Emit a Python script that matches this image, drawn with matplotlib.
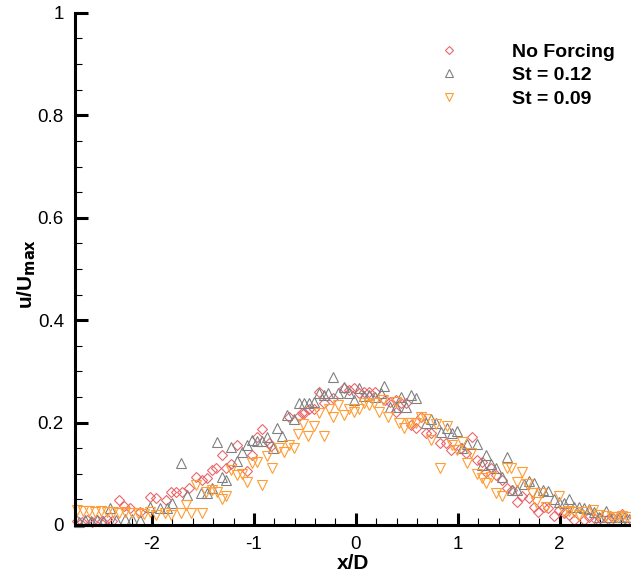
#!/usr/bin/env python3
import numpy as np
import matplotlib
matplotlib.use("Agg")
import matplotlib.pyplot as plt
from matplotlib.ticker import MultipleLocator

plt.rcParams['font.family'] = ['Liberation Sans', 'DejaVu Sans']

# No forcing (red diamonds)
x_nf = [-2.74, -2.69, -2.64, -2.59, -2.54, -2.49, -2.44, -2.39, -2.32, -2.27, -2.22, -2.12,
        -2.02, -1.96, -1.86, -1.81, -1.76, -1.71, -1.64, -1.57, -1.51, -1.46, -1.41, -1.37,
        -1.31, -1.27, -1.22, -1.17, -1.07, -1.02, -0.97, -0.92, -0.85, -0.83, -0.66, -0.56,
        -0.53, -0.51, -0.46, -0.41, -0.36, -0.31, -0.22, -0.12, -0.07, -0.02, 0.03, 0.08,
        0.13, 0.19, 0.29, 0.34, 0.39, 0.39, 0.44, 0.49, 0.54, 0.59, 0.64, 0.69, 0.74, 0.83,
        0.88, 0.93, 1.03, 1.08, 1.14, 1.19, 1.24, 1.28, 1.33, 1.38, 1.43, 1.48, 1.53, 1.58,
        1.63, 1.70, 1.75, 1.79, 1.85, 1.89, 1.94, 1.99, 2.04, 2.09, 2.14, 2.24, 2.29, 2.35,
        2.40, 2.47, 2.52, 2.61, 2.66]
y_nf = [0.008, 0.005, 0.009, 0.006, 0.010, 0.007, 0.012, 0.008, 0.049, 0.037, 0.033, 0.025,
        0.055, 0.052, 0.049, 0.064, 0.064, 0.064, 0.072, 0.094, 0.088, 0.092, 0.107, 0.111,
        0.137, 0.111, 0.120, 0.156, 0.105, 0.137, 0.172, 0.187, 0.160, 0.154, 0.211, 0.213,
        0.219, 0.219, 0.227, 0.226, 0.260, 0.238, 0.248, 0.268, 0.264, 0.268, 0.258, 0.260,
        0.260, 0.260, 0.244, 0.240, 0.244, 0.221, 0.238, 0.238, 0.195, 0.190, 0.211, 0.180,
        0.180, 0.160, 0.160, 0.146, 0.150, 0.141, 0.172, 0.127, 0.123, 0.104, 0.111, 0.098,
        0.088, 0.072, 0.068, 0.045, 0.057, 0.053, 0.035, 0.025, 0.035, 0.033, 0.018, 0.029,
        0.023, 0.020, 0.010, 0.010, 0.016, 0.012, 0.014, 0.012, 0.014, 0.021, 0.010]

# St = 0.12 (grey up triangles)
x_12 = [-2.72, -2.66, -2.60, -2.54, -2.48, -2.41, -2.35, -2.26, -2.20, -2.12, -2.02, -1.92,
        -1.85, -1.80, -1.72, -1.66, -1.52, -1.46, -1.41, -1.36, -1.31, -1.27, -1.22, -1.17,
        -1.12, -1.07, -1.02, -0.97, -0.92, -0.87, -0.81, -0.77, -0.72, -0.68, -0.61, -0.56,
        -0.51, -0.46, -0.41, -0.36, -0.31, -0.27, -0.22, -0.17, -0.12, -0.07, -0.02, 0.03,
        0.08, 0.13, 0.19, 0.25, 0.28, 0.34, 0.39, 0.44, 0.49, 0.54, 0.59, 0.69, 0.74, 0.79,
        0.84, 0.89, 0.94, 0.99, 1.04, 1.09, 1.19, 1.24, 1.28, 1.33, 1.38, 1.43, 1.48, 1.53,
        1.58, 1.65, 1.70, 1.75, 1.79, 1.84, 1.89, 1.94, 1.99, 2.04, 2.09, 2.14, 2.19, 2.24,
        2.29, 2.34, 2.39, 2.45, 2.49, 2.58, 2.63, 2.68]
y_12 = [0.006, 0.010, 0.008, 0.010, 0.008, 0.033, 0.010, 0.012, 0.012, 0.010, 0.035, 0.033,
        0.033, 0.043, 0.121, 0.058, 0.062, 0.062, 0.072, 0.162, 0.094, 0.088, 0.152, 0.125,
        0.142, 0.156, 0.166, 0.164, 0.164, 0.172, 0.150, 0.190, 0.174, 0.215, 0.207, 0.238,
        0.238, 0.238, 0.240, 0.258, 0.254, 0.258, 0.289, 0.258, 0.270, 0.258, 0.244, 0.268,
        0.252, 0.254, 0.250, 0.258, 0.271, 0.230, 0.230, 0.250, 0.230, 0.254, 0.248, 0.200,
        0.207, 0.200, 0.182, 0.190, 0.180, 0.184, 0.150, 0.158, 0.158, 0.117, 0.137, 0.119,
        0.111, 0.094, 0.133, 0.068, 0.068, 0.080, 0.086, 0.082, 0.064, 0.068, 0.066, 0.051,
        0.045, 0.043, 0.051, 0.035, 0.035, 0.033, 0.031, 0.025, 0.016, 0.027, 0.016, 0.016,
        0.016, 0.012]

# St = 0.09 (orange down triangles)
x_09 = [-2.74, -2.68, -2.62, -2.56, -2.50, -2.44, -2.38, -2.32, -2.26, -2.20, -2.14, -2.08,
        -2.02, -1.96, -1.87, -1.81, -1.72, -1.67, -1.62, -1.57, -1.51, -1.47, -1.41, -1.36,
        -1.31, -1.27, -1.22, -1.17, -1.12, -1.07, -1.02, -0.97, -0.92, -0.87, -0.82, -0.75,
        -0.70, -0.66, -0.61, -0.57, -0.52, -0.47, -0.41, -0.36, -0.31, -0.26, -0.22, -0.17,
        -0.12, -0.07, -0.02, 0.03, 0.08, 0.13, 0.18, 0.23, 0.27, 0.32, 0.39, 0.42, 0.47,
        0.52, 0.54, 0.59, 0.64, 0.69, 0.74, 0.79, 0.83, 0.89, 0.94, 0.99, 1.04, 1.09, 1.13,
        1.19, 1.24, 1.28, 1.33, 1.38, 1.43, 1.48, 1.52, 1.58, 1.63, 1.68, 1.73, 1.77, 1.82,
        1.87, 1.99, 2.04, 2.09, 2.14, 2.19, 2.24, 2.33, 2.38, 2.45, 2.51, 2.56, 2.61, 2.66]
y_09 = [0.030, 0.027, 0.027, 0.025, 0.027, 0.025, 0.025, 0.023, 0.025, 0.023, 0.023, 0.021,
        0.025, 0.020, 0.023, 0.020, 0.023, 0.039, 0.023, 0.078, 0.023, 0.064, 0.068, 0.065,
        0.051, 0.057, 0.107, 0.098, 0.100, 0.084, 0.121, 0.123, 0.078, 0.135, 0.111, 0.150,
        0.143, 0.156, 0.150, 0.178, 0.197, 0.174, 0.193, 0.219, 0.174, 0.227, 0.211, 0.234,
        0.215, 0.227, 0.221, 0.227, 0.238, 0.234, 0.238, 0.221, 0.244, 0.211, 0.240, 0.200,
        0.190, 0.200, 0.200, 0.200, 0.211, 0.207, 0.166, 0.197, 0.111, 0.193, 0.156, 0.146,
        0.162, 0.121, 0.140, 0.100, 0.092, 0.082, 0.094, 0.062, 0.057, 0.111, 0.111, 0.084,
        0.104, 0.080, 0.062, 0.045, 0.062, 0.035, 0.057, 0.025, 0.027, 0.025, 0.020, 0.025,
        0.029, 0.020, 0.018, 0.016, 0.016, 0.018, 0.016]

red = '#e8666a'
grey = '#808080'
orange = '#ff9c33'

fig = plt.figure(figsize=(6.31, 5.78), dpi=100)
ax = fig.add_axes([0.1189, 0.0917, 0.8811, 0.886])

ax.plot(x_nf, y_nf, 'D', ms=5.5, mfc='none', mec=red, mew=0.8, label='No Forcing', clip_on=False)
ax.plot(x_12, y_12, '^', ms=7, mfc='none', mec=grey, mew=0.8, label='St = 0.12', clip_on=False)
ax.plot(x_09, y_09, 'v', ms=7, mfc='none', mec=orange, mew=0.8, label='St = 0.09', clip_on=False)

ax.set_xlim(-2.755, 2.7)
ax.set_ylim(0, 1)
ax.spines['top'].set_visible(False)
ax.spines['right'].set_visible(False)
ax.spines['left'].set_linewidth(2.2)
ax.spines['bottom'].set_linewidth(2.2)

ax.xaxis.set_major_locator(MultipleLocator(1))
ax.xaxis.set_minor_locator(MultipleLocator(0.2))
ax.yaxis.set_major_locator(MultipleLocator(0.2))
ax.yaxis.set_minor_locator(MultipleLocator(0.05))
ax.tick_params(which='major', direction='in', length=9, width=2.2, labelsize=13.5, pad=8)
ax.tick_params(which='minor', direction='in', length=5, width=0.8)
ax.set_yticks([0, 0.2, 0.4, 0.6, 0.8, 1.0])
ax.set_yticklabels(['0', '0.2', '0.4', '0.6', '0.8', '1'])
ax.set_xticks([-2, -1, 0, 1, 2])
ax.set_xticklabels(['-2', '-1', '0', '1', '2'])

ax.set_xlabel('x/D', fontsize=15, fontweight='bold', labelpad=1)
ax.set_ylabel(r'u/U$_{\mathbf{max}}$', fontsize=15, fontweight='bold')
ax.yaxis.set_label_coords(-0.066, 0.49)

ax.legend(loc='upper left', bbox_to_anchor=(0.615, 0.975), frameon=False,
          prop={'weight': 'bold', 'size': 14}, handletextpad=2.5,
          labelspacing=0.3, markerscale=0.75, handlelength=1.5)

fig.savefig('out.png', dpi=100)
